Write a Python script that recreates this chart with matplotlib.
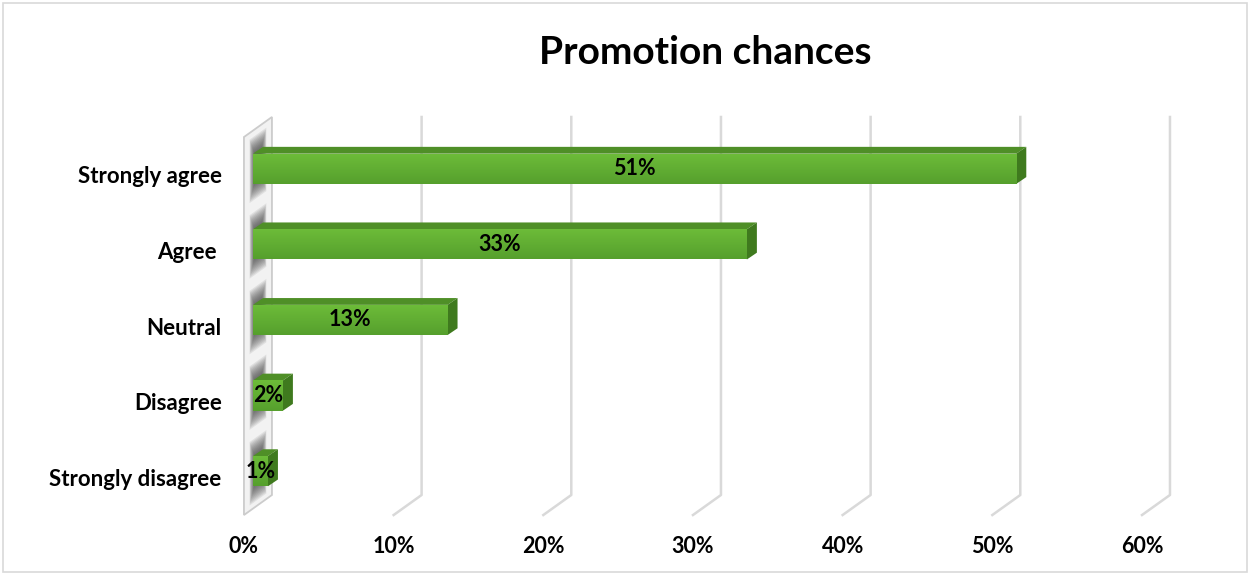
import matplotlib
matplotlib.use('Agg')
import matplotlib.pyplot as plt
from matplotlib.patches import Polygon, Rectangle
from matplotlib.colors import LinearSegmentedColormap
import numpy as np

# Daten
categories = ['Strongly disagree', 'Disagree', 'Neutral', 'Agree ', 'Strongly agree']
values = [1, 2, 13, 33, 51]
labels = ['1%', '2%', '13%', '33%', '51%']
xticks = [0, 10, 20, 30, 40, 50, 60]
xticklabels = ['0%', '10%', '20%', '30%', '40%', '50%', '60%']

plt.rcParams['font.family'] = ['Lato', 'DejaVu Sans']

# 3D-Tiefe (in Datenkoordinaten)
depth_x, depth_y = 1.87, 0.265
front_x, front_y = 0.6, 0.08
back_x, back_y = 1.27, 0.17
bar_h = 0.4

fig = plt.figure(figsize=(12.53, 5.75), dpi=100)
fig.patches.append(Rectangle((0.002, 0.005), 0.993, 0.99, transform=fig.transFigure,
                             fill=False, edgecolor='#d9d9d9', linewidth=1.2))
ax = fig.add_axes([0.1947, 0.1043, 0.7167, 0.6574])

# Gitterlinien (Rückwand + Boden)
for t in xticks[1:]:
    ax.plot([t, t + depth_x, t + depth_x], [-0.5, -0.5 + depth_y, 4.5 + depth_y],
            color='#d9d9d9', linewidth=1.8, clip_on=False, zorder=1)

# linke Wand
def wall_pt(x, y):
    # Punkt auf der Wand: x = Tiefe 0..depth_x, y = Kategorie-Höhe vorne
    return (x, y + depth_y * x / depth_x)

wall = Polygon([wall_pt(0, -0.5), wall_pt(depth_x, -0.5), wall_pt(depth_x, 4.5), wall_pt(0, 4.5)],
               closed=True, facecolor='#f2f2f2', edgecolor='#cccccc', linewidth=1.3,
               clip_on=False, zorder=2)
ax.add_patch(wall)

# weiche Schatten der Balken auf der Wand
for i in range(len(categories)):
    c = i + (front_y + back_y) / 2 - depth_y / 2
    for k in range(14):
        s = k / 13.0
        hh = 0.16 + 0.26 * (1 - s)
        x0 = depth_x * (0.2 + 0.2 * s)
        x1 = depth_x * (0.8 - 0.2 * s)
        poly = Polygon([wall_pt(x0, c - hh), wall_pt(x1, c - hh), wall_pt(x1, c + hh), wall_pt(x0, c + hh)],
                       closed=True, facecolor='#404040', edgecolor='none', alpha=0.1,
                       clip_on=False, zorder=2.5)
        ax.add_patch(poly)

# Balken
grad = np.linspace(0, 1, 50)[:, None]
green = LinearSegmentedColormap.from_list('g', ['#569f2d', '#6dbd39'])
for i, v in enumerate(values):
    bars = ax.barh(i + front_y, v, height=bar_h, left=front_x, color='#62b031',
                   edgecolor='none', zorder=4)
    gi = ax.imshow(grad, cmap=green, origin='lower', aspect='auto',
                   extent=(front_x, front_x + v, i + front_y - bar_h / 2, i + front_y + bar_h / 2),
                   zorder=4.5)
    gi.set_clip_path(bars[0])
    top = Polygon([(front_x, i + front_y + bar_h / 2), (front_x + v, i + front_y + bar_h / 2),
                   (back_x + v, i + back_y + bar_h / 2), (back_x, i + back_y + bar_h / 2)],
                  closed=True, facecolor='#4f8f27', edgecolor='none', zorder=4)
    side = Polygon([(front_x + v, i + front_y - bar_h / 2), (back_x + v, i + back_y - bar_h / 2),
                    (back_x + v, i + back_y + bar_h / 2), (front_x + v, i + front_y + bar_h / 2)],
                   closed=True, facecolor='#3f7a1e', edgecolor='none', zorder=4)
    ax.add_patch(top)
    ax.add_patch(side)
    ax.text(front_x + v / 2, i + front_y, labels[i], ha='center', va='center',
            fontsize=15.5, fontweight='bold', color='black', zorder=6)

ax.set_xlim(0, 60)
ax.set_ylim(-0.5, 4.5)
ax.set_yticks(range(len(categories)))
ax.set_yticklabels(categories, fontsize=16, fontweight='bold')
ax.set_xticks(xticks)
ax.set_xticklabels(xticklabels, fontsize=15.5, fontweight='bold')
ax.tick_params(axis='y', length=0, pad=16)
ax.tick_params(axis='x', length=0, pad=15)
for s in ax.spines.values():
    s.set_visible(False)

fig.text(0.563, 0.908, 'Promotion chances', ha='center', va='center',
         fontsize=28, fontweight='bold')

fig.savefig('out.png', dpi=100)
